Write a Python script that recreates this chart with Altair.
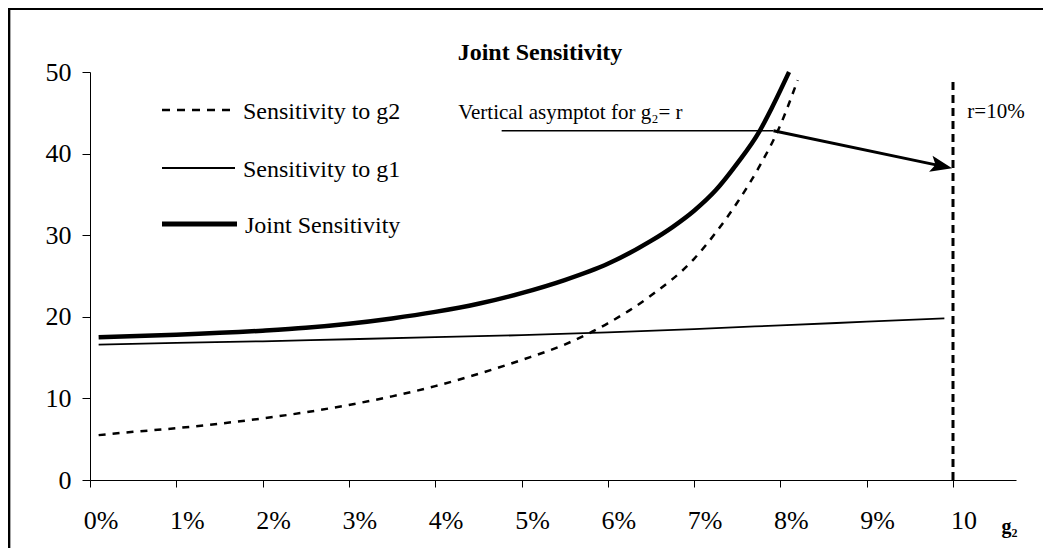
import altair as alt
import pandas as pd

# ---- data (g in %, sensitivity values) ----
g2_g = [0.1, 0.5, 1.0, 1.5, 2.0, 2.5, 3.0, 3.5, 4.0, 4.5, 5.0, 5.5, 6.0, 6.5, 7.0, 7.25, 7.5, 7.75, 8.0, 8.2]
g2_v = [5.5, 5.9, 6.35, 6.9, 7.55, 8.3, 9.2, 10.25, 11.5, 13.0, 14.7, 16.6, 19.2, 22.6, 27.1, 30.3, 34.0, 38.3, 43.5, 49.0]

g1_g = [0.1, 1, 2, 3, 4, 5, 6, 7, 8, 9, 9.9]
g1_v = [16.6, 16.8, 17.0, 17.25, 17.5, 17.75, 18.1, 18.5, 18.95, 19.4, 19.8]

joint_g = [0.1, 1.0, 2.0, 2.5, 3.0, 3.5, 4.0, 4.5, 5.0, 5.5, 6.0, 6.5, 6.75, 7.0, 7.25, 7.5, 7.75, 7.9, 8.1]
joint_v = [17.5, 17.8, 18.3, 18.65, 19.15, 19.8, 20.6, 21.6, 22.9, 24.5, 26.5, 29.3, 31.0, 33.0, 35.5, 38.8, 42.6, 45.6, 50.0]

x_ticks = [0, 0.01, 0.02, 0.03, 0.04, 0.05, 0.06, 0.07, 0.08, 0.09, 0.10]
y_ticks = [0, 10, 20, 30, 40, 50]

legend_labels = ["Sensitivity to g2", "Sensitivity to g1", "Joint Sensitivity"]
title_text = "Joint Sensitivity"

FONT = "Liberation Serif"
W, H = 926, 408

def frame(gs, vs):
    return pd.DataFrame({"g": [x / 100 for x in gs], "v": vs})

x_axis = alt.Axis(
    values=x_ticks,
    labelExpr="datum.value > 0.0995 ? '10' : format(datum.value, '.0%')",
    title="g₂",
    titleFont=FONT, titleFontSize=20, titleFontWeight="bold", titleColor="black",
    titleAnchor="end", titleAlign="right", titleBaseline="alphabetic",
    titleX=W + 1, titleY=52,
    labelFont=FONT, labelFontSize=26, labelColor="black",
    labelBaseline="alphabetic", labelPadding=41, labelOffset=10.5, labelAlign="center",
    tickSize=7, tickColor="black", domainColor="black", grid=False,
    labelFlush=False, labelOverlap=False,
)
y_axis = alt.Axis(
    values=y_ticks, title=None,
    labelFont=FONT, labelFontSize=26, labelColor="black", labelPadding=11,
    tickSize=8, tickColor="black", domainColor="black", grid=False,
)

X = alt.X("g:Q", scale=alt.Scale(domain=[0, 0.1073], nice=False, zero=False), axis=x_axis)
Y = alt.Y("v:Q", scale=alt.Scale(domain=[0, 50], nice=False), axis=y_axis)

line_g2 = alt.Chart(frame(g2_g, g2_v)).mark_line(
    color="black", strokeWidth=2.5, strokeDash=[7, 7], interpolate="monotone"
).encode(x=X, y=Y)
line_g1 = alt.Chart(frame(g1_g, g1_v)).mark_line(
    color="black", strokeWidth=1.8, interpolate="monotone"
).encode(x=X, y=Y)
line_joint = alt.Chart(frame(joint_g, joint_v)).mark_line(
    color="black", strokeWidth=4.5, interpolate="monotone"
).encode(x=X, y=Y)

# vertical asymptote at r = 10%
asym = alt.Chart(pd.DataFrame({"g": [0.10], "v": [0], "v2": [48.8]})).mark_rule(
    color="black", strokeWidth=3, strokeDash=[8, 5]
).encode(x=X, y=Y, y2="v2:Q")

# annotation: horizontal leader + arrow
leader = alt.Chart(pd.DataFrame({"g": [0.0477], "g2": [0.0792], "v": [42.8]})).mark_rule(
    color="black", strokeWidth=1.5
).encode(x=X, x2="g2:Q", y=Y)
arrow = alt.Chart(pd.DataFrame({"g": [0.0792], "g2": [0.0990], "v": [42.8], "v2": [38.4]})).mark_rule(
    color="black", strokeWidth=3
).encode(x=X, x2="g2:Q", y=Y, y2="v2:Q")
head = alt.Chart(pd.DataFrame({"g": [0.0999], "v": [38.2]})).mark_point(
    shape="M0,0 L-1,-0.38 L-0.78,0 L-1,0.38 Z", size=1900, angle=12,
    filled=True, color="black", opacity=1, strokeWidth=0
).encode(x=X, y=Y)

note = alt.Chart(pd.DataFrame({"g": [0.04266], "v": [44.24], "t": ["Vertical asymptot for g₂= r"]})).mark_text(
    align="left", baseline="alphabetic", font=FONT, fontSize=21, color="black"
).encode(x=X, y=Y, text="t:N")
rnote = alt.Chart(pd.DataFrame({"g": [0.10166], "v": [44.36], "t": ["r=10%"]})).mark_text(
    align="left", baseline="alphabetic", font=FONT, fontSize=21, color="black"
).encode(x=X, y=Y, text="t:N")

# ---- hand-drawn legend (pixel layout) ----
one = pd.DataFrame({"k": [0]})
leg_layers = []
leg_specs = [
    (38, 140, dict(strokeWidth=2.5, strokeDash=[8, 7]), 153),
    (96, 145, dict(strokeWidth=1.8), 153),
    (152, 147, dict(strokeWidth=5), 155),
]
for (yy, x2, style, tx), label in zip(leg_specs, legend_labels):
    leg_layers.append(
        alt.Chart(one).mark_rule(color="black", **style).encode(
            x=alt.value(72), x2=alt.value(x2), y=alt.value(yy)
        )
    )
    leg_layers.append(
        alt.Chart(one).mark_text(
            align="left", baseline="alphabetic", font=FONT, fontSize=24, color="black", text=label
        ).encode(x=alt.value(tx), y=alt.value(yy + 8.5))
    )

# ---- chart title (placed as text, centred like the reference) ----
title = alt.Chart(one).mark_text(
    align="center", baseline="alphabetic", font=FONT, fontSize=24, fontWeight="bold",
    color="black", text=title_text
).encode(x=alt.value(450), y=alt.value(-12.5))

# ---- outer frame (top and left edges visible in the reference) ----
frame_top = alt.Chart(one).mark_rule(color="black", strokeWidth=2.7).encode(
    x=alt.value(-82), x2=alt.value(W + 27), y=alt.value(-63.3)
)
frame_left = alt.Chart(one).mark_rule(color="black", strokeWidth=2.7).encode(
    x=alt.value(-81), y=alt.value(-64), y2=alt.value(H + 68)
)

chart = alt.layer(
    line_g1, line_g2, line_joint, asym, leader, arrow, head, note, rnote,
    *leg_layers, title, frame_top, frame_left
).properties(
    width=W, height=H,
    padding={"left": 82, "top": 64, "right": 27, "bottom": 68},
    autosize=alt.AutoSizeParams(type="none"),
).configure(font=FONT, background="white").configure_view(stroke=None)

chart.save("out.html", embed_options={"renderer": "svg", "actions": False})
